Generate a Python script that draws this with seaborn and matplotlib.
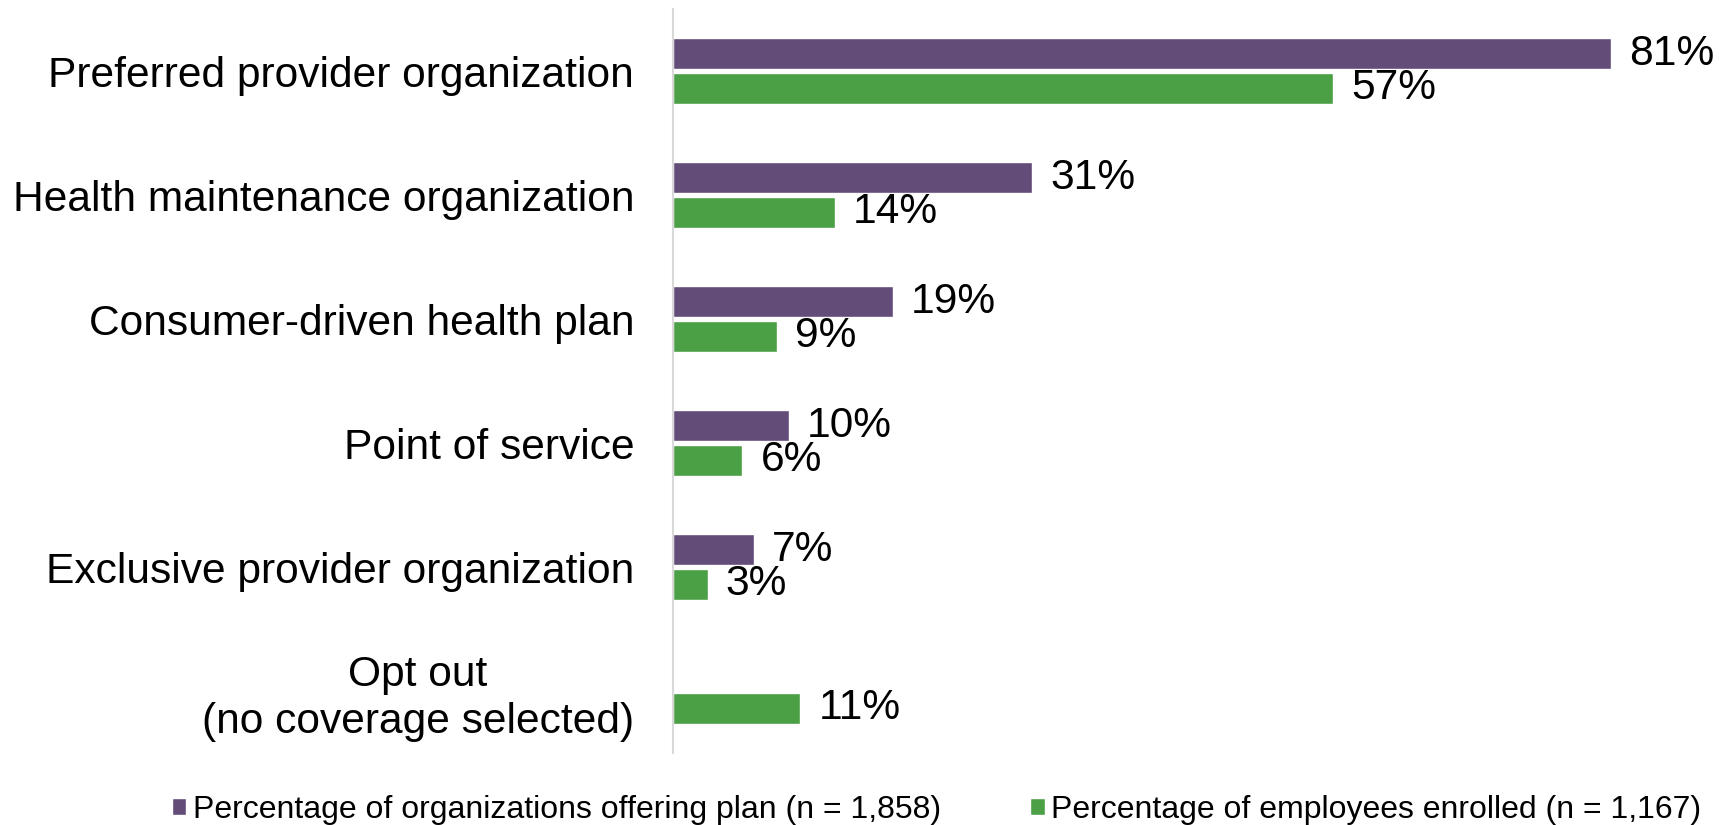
import matplotlib
matplotlib.use("Agg")
import matplotlib.pyplot as plt
import matplotlib.transforms as mtransforms
import seaborn as sns
import pandas as pd

plans = [
    "Preferred provider organization",
    "Health maintenance organization",
    "Consumer-driven health plan",
    "Point of service",
    "Exclusive provider organization",
    "Opt out\n(no coverage selected)",
]
offering_pct = [81, 31, 19, 10, 7, None]
enrolled_pct = [57, 14, 9, 6, 3, 11]
series_names = [
    "Percentage of organizations offering plan (n = 1,858)",
    "Percentage of employees enrolled (n = 1,167)",
]
colors = ["#634D78", "#4BA046"]

rows = []
for plan, a, b in zip(plans, offering_pct, enrolled_pct):
    if a is not None:
        rows.append({"plan": plan, "series": series_names[0], "pct": a})
    if b is not None:
        rows.append({"plan": plan, "series": series_names[1], "pct": b})
df = pd.DataFrame(rows)

sns.set_theme(style="white")
plt.rcParams["font.family"] = ["Liberation Sans", "DejaVu Sans"]
plt.rcParams["text.color"] = "black"

fig = plt.figure(figsize=(17.24, 8.25), dpi=100)
ax = fig.add_axes([0.3904, 0.0873, 1 - 0.3904, 0.989 - 0.0873])

sns.barplot(
    data=df, x="pct", y="plan", hue="series",
    order=plans, hue_order=series_names,
    palette=colors, orient="h", width=0.56, gap=0.1,
    errorbar=None, ax=ax, legend=True, saturation=1,
)

# value labels just past the end of each bar, nudged slightly downward
shift = mtransforms.ScaledTranslation(0, -2 / 72, fig.dpi_scale_trans)
for cont in ax.containers:
    texts = ax.bar_label(cont, fmt="%.0f%%", padding=13, fontsize=30.6, color="black")
    for t in texts:
        t.set_transform(t.get_transform() + shift)

ax.set_xlim(0, 90.8)
ax.set_ylim(5.5, -0.5)
ax.set_xlabel("")
ax.set_ylabel("")
ax.set_xticks([])
ax.tick_params(axis="y", length=0, pad=28, labelsize=30.6, labelcolor="black")
for lbl in ax.get_yticklabels():
    lbl.set_multialignment("center")

for side in ["top", "right", "bottom"]:
    ax.spines[side].set_visible(False)
ax.spines["left"].set_color("#D9D9D9")
ax.spines["left"].set_linewidth(1.5)

handles, labels = ax.get_legend_handles_labels()
ax.legend_.remove()
fig.legend(
    handles, labels, loc="lower left", bbox_to_anchor=(0.083, -0.035),
    ncol=2, frameon=False, fontsize=23, handlelength=0.45, handleheight=0.45,
    handletextpad=0.2, columnspacing=2.8, labelcolor="black",
)

fig.savefig("out.png", dpi=100)
